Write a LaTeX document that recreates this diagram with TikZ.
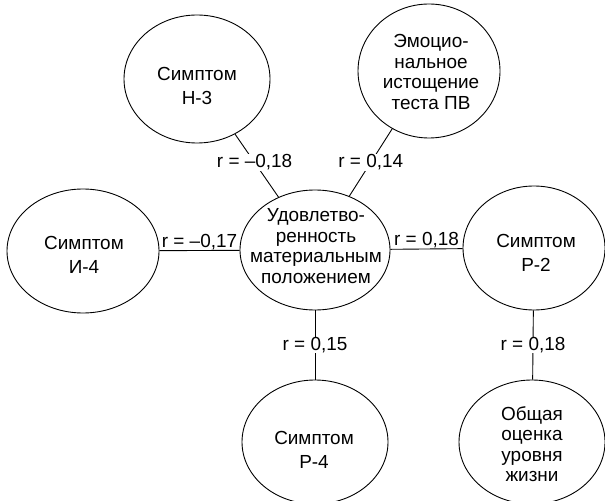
\documentclass[tikz,border=0pt]{standalone}
\usepackage{fontspec}
\setmainfont{Liberation Sans}
\usetikzlibrary{shapes.geometric}
\begin{document}
\begin{tikzpicture}[x=1bp,y=-1bp,
  bub/.style={draw, ellipse, line width=0.9pt, inner sep=0pt},
  txt/.style={align=center, inner sep=0pt, font=\fontsize{19}{20.5}\selectfont},
  two/.style={font=\fontsize{19}{24}\selectfont},
  lab/.style={font=\fontsize{19}{20}\selectfont, inner sep=0.5pt},
  labw/.style={lab, fill=white},
  conn/.style={line width=0.9pt}]
\useasboundingbox (0,0) rectangle (605,501);
% ellipses
\node[bub, minimum width=150bp, minimum height=120bp] (cen) at (315,250) {};
\node[bub, minimum width=146bp, minimum height=128bp] (h3) at (197,79) {};
\node[bub, minimum width=142bp, minimum height=134bp] (emo) at (429,71) {};
\node[bub, minimum width=152bp, minimum height=124bp] (i4) at (83,251) {};
\node[bub, minimum width=142bp, minimum height=124bp] (r2) at (534,248) {};
\node[bub, minimum width=146bp, minimum height=124bp] (p4) at (315,442) {};
\node[bub, minimum width=146bp, minimum height=124bp] (ob) at (532,442) {};
% texts
\node[txt] (cen-t) at (316,246) {Удовлетво-\\ренность\\материальным\\положением};
\node[txt, two] (h3-t) at (197,86) {Симптом\\Н-3};
\node[txt] (emo-t) at (431,72) {Эмоцио-\\нальное\\истощение\\теста ПВ};
\node[txt, two] (i4-t) at (84,255) {Симптом\\И-4};
\node[txt, two] (r2-t) at (536,253) {Симптом\\Р-2};
\node[txt, two] (p4-t) at (314,450) {Симптом\\Р-4};
\node[txt] (ob-t) at (532,444) {Общая\\оценка\\уровня\\жизни};
% connectors
\draw[conn] (h3) -- node[labw, pos=0.45] {r = –0,18} (cen);
\draw[conn] (emo) -- node[labw, pos=0.5] {r = 0,14} (cen);
\draw[conn] (i4) -- node[lab, above] {r = –0,17} (cen);
\draw[conn] (cen) -- node[lab, above] {r = 0,18} (r2);
\draw[conn] (cen) -- node[labw] {r = 0,15} (p4);
\draw[conn] (r2) -- node[labw] {r = 0,18} (ob);
\end{tikzpicture}
\end{document}
